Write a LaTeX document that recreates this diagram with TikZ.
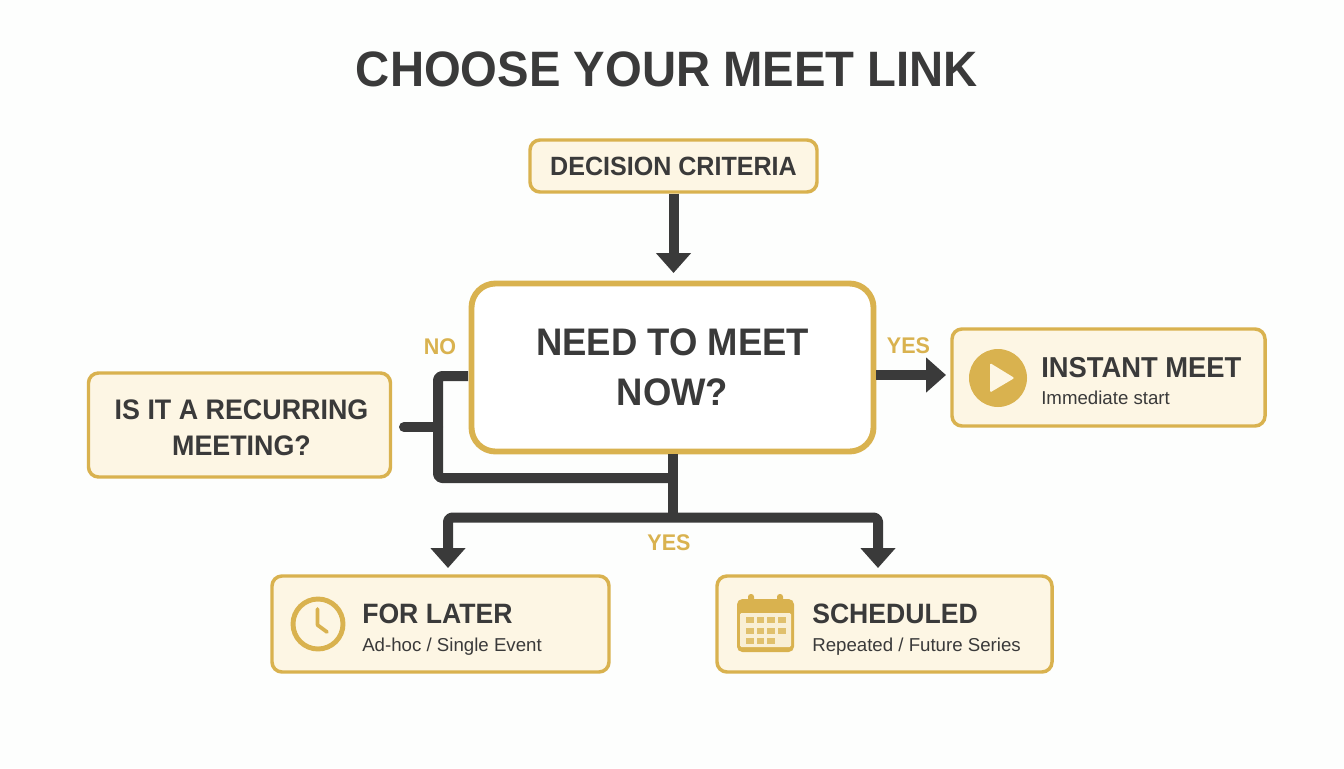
\documentclass[tikz,border=0pt]{standalone}
\usepackage{fontspec}
\setmainfont{Liberation Sans}[BoldFeatures={FakeStretch=0.95}]
\usetikzlibrary{arrows.meta,calc}
\definecolor{gold}{HTML}{D9B24F}
\definecolor{cream}{HTML}{FDF6E4}
\definecolor{ink}{HTML}{3A3A3A}
\definecolor{paper}{HTML}{FDFEFD}
\newcommand{\fs}[1]{\fontsize{#1}{#1}\selectfont}
\tikzset{
  x=0.75pt,y=-0.75pt,
  box/.style={draw=gold,fill=cream,line width=2.6pt,rounded corners=7.5pt,anchor=center,inner sep=0pt,align=center,text=ink,font=\bfseries\fs{21.2}},
  head/.style={anchor=base west,inner sep=0pt,text=ink,font=\bfseries\fs{21}},
  sub/.style={anchor=base west,inner sep=0pt,text=ink,font=\fs{14}},
  lab/.style={inner sep=0pt,text=gold,font=\bfseries\fs{17}},
  wire/.style={draw=ink,line width=7.5pt,line join=round,rounded corners=3pt},
  arrow/.style={wire,-{Triangle[length=15pt,width=25.5pt]}},
  twoway/.style={wire,{Triangle[length=15pt,width=25.5pt]}-{Triangle[length=15pt,width=25.5pt]}},
}
\begin{document}
\begin{tikzpicture}
\useasboundingbox[fill=paper] (0,0) rectangle (1344,768);
\node[inner sep=0pt,text=ink,font=\bfseries\fs{37.3}] (title) at (667,69) {CHOOSE YOUR MEET LINK};

\node[box,minimum width=287*0.75pt,minimum height=52*0.75pt,font=\bfseries\fs{19.8}] (crit) at (673.5,166) {DECISION CRITERIA};
\node[box,line width=4.4pt,rounded corners=18pt,fill=white,minimum width=402*0.75pt,minimum height=168*0.75pt,font=\bfseries\fs{28.8},align=center] (main) at (672.5,367.5) {NEED TO MEET\hspace{3pt}\\[8.5pt]NOW?\hspace{3pt}};
\node[box,minimum width=302*0.75pt,minimum height=104*0.75pt] (rec) at (239.5,425) {\hspace{3pt}\rule{0pt}{19pt}IS IT A RECURRING\\[5.5pt]\hspace{3pt}MEETING?};
\node[box,minimum width=313*0.75pt,minimum height=97*0.75pt] (inst) at (1108.5,377.5) {};
\node[box,minimum width=337*0.75pt,minimum height=96*0.75pt] (later) at (440.5,624) {};
\node[box,minimum width=335*0.75pt,minimum height=96*0.75pt] (sched) at (884.5,624) {};

\coordinate (stub) at (404,427);
\coordinate (busL) at (438,427);
\coordinate (tee) at (672.5,517.5);
\coordinate (dropL) at (448,517.5);
\coordinate (dropR) at (878,517.5);
\coordinate (tipL) at (448,568);
\coordinate (tipR) at (878,568);
\coordinate (noOut) at (468,376);
\coordinate (yesOut) at (876,375);
\coordinate (tipY) at (946,375);

\draw[arrow] (crit.south) -- (crit.south |- 0,273);
\draw[wire,line cap=butt] (noOut) -| (busL |- 0,478) -- (tee |- 0,478);
\draw[wire,line cap=round] (stub) -- (busL);
\draw[wire] (main.south) -- (tee);
\draw[twoway] (tipL) -- (dropL) -- (dropR) -- (tipR);
\draw[arrow] (yesOut) -- (tipY);

\node[lab] (no) at (440,347) {NO};
\node[lab] (yes1) at (908.5,346) {YES};
\node[lab] (yes2) at (669,543) {YES};

% instant
\node[circle,fill=gold,minimum size=58*0.75pt,inner sep=0pt] (play) at (998,378) {};
\fill[cream,rounded corners=1pt] (990,363) -- (990,392.5) -- (1014.5,378) -- cycle;
\node[head,font=\bfseries\fs{21.6}] (instT) at (1041,377) {INSTANT MEET};
\node[sub] (instS) at (1041,404) {Immediate start};

% later
\node[circle,draw=gold,line width=3.7pt,fill=none,minimum size=50*0.75pt,inner sep=0pt] (clock) at (318,624) {};
\draw[gold,line width=2.8pt,line cap=round,line join=round] (317.5,609) -- (317.5,625) -- (327,632);
\node[head] (lateT) at (362,623.5) {FOR LATER};
\node[sub] (lateS) at (362,651) {Ad-hoc / Single Event};

% scheduled
\fill[gold,rounded corners=4pt] (737,599) rectangle (794,652);
\fill[gold,rounded corners=2pt] (748,594) rectangle (754,602);
\fill[gold,rounded corners=2pt] (777,594) rectangle (783,602);
\fill[cream!90!gold,rounded corners=1pt] (740,613) rectangle (791,647);
\foreach \r/\n in {617/4,627.5/4,637.5/3}{
  \foreach \i in {1,...,\n}{
    \fill[gold!80!cream] ({746+(\i-1)*10.7},\r) rectangle ++(7.5,6);
  }
}
\node[head] (schT) at (812,623.5) {SCHEDULED};
\node[sub] (schS) at (812,651) {Repeated / Future Series};
\end{tikzpicture}
\end{document}
